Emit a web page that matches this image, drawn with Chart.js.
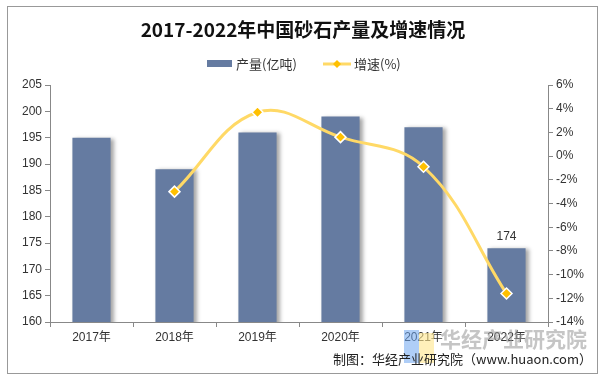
<!DOCTYPE html>
<html>
<head>
<meta charset="utf-8">
<script src="https://cdn.jsdelivr.net/npm/chart.js@4.4.1/dist/chart.umd.min.js"></script>
<style>
    body { margin: 0; background: #fff; }
</style>
</head>
<body>
<canvas id="sandChart" width="607" height="386"></canvas>
<script>
const years = ["2017年", "2018年", "2019年", "2020年", "2021年", "2022年"];
const output = [195, 189, 196, 199, 197, 174];
const growth = [null, -3.0, 3.7, 1.6, -0.9, -11.6];
const leftTicks = [160, 205, 5];
const rightTicks = [-14, 6, 2];

const fontName = '"Liberation Sans", "Noto Sans CJK SC", sans-serif';
const barColor = "#657BA1";
const lineColor = "#FFD966";
const markColor = "#FFC000";

// frame, title, legend, labels and footer
const decorPlugin = {
    id: "decor",
    beforeDatasetDraw(chart, args) {
        if (args.index === 0) {
            const ctx = chart.ctx;
            ctx.save();
            ctx.shadowColor = "rgba(0,0,0,0.35)";
            ctx.shadowBlur = 4;
            ctx.shadowOffsetX = 3;
            ctx.shadowOffsetY = 1;
        }
    },
    afterDatasetDraw(chart, args) {
        if (args.index === 0) chart.ctx.restore();
    },
    afterDraw(chart) {
        const ctx = chart.ctx;
        ctx.save();

        ctx.strokeStyle = "#999";
        ctx.lineWidth = 1;
        ctx.strokeRect(7.5, 6.5, 590, 367);

        ctx.fillStyle = "#111";
        ctx.font = 'bold 19px "Noto Sans CJK SC", serif';
        ctx.textAlign = "center";
        ctx.textBaseline = "middle";
        ctx.fillText("2017-2022年中国砂石产量及增速情况", 303, 30);

        // legend
        ctx.font = '13px "Noto Sans CJK SC", sans-serif';
        ctx.textAlign = "left";
        ctx.fillStyle = barColor;
        ctx.fillRect(207, 60, 25, 7);
        ctx.fillStyle = "#333";
        ctx.fillText("产量(亿吨)", 236, 64);
        ctx.strokeStyle = lineColor;
        ctx.lineWidth = 3;
        ctx.beginPath();
        ctx.moveTo(323, 64);
        ctx.lineTo(351, 64);
        ctx.stroke();
        ctx.fillStyle = markColor;
        ctx.beginPath();
        ctx.moveTo(337, 60);
        ctx.lineTo(341, 64);
        ctx.lineTo(337, 68);
        ctx.lineTo(333, 64);
        ctx.closePath();
        ctx.fill();
        ctx.fillStyle = "#333";
        ctx.fillText("增速(%)", 354, 64);

        // value label on last bar
        const bar = chart.getDatasetMeta(0).data[5];
        ctx.font = "12px " + fontName;
        ctx.textAlign = "center";
        ctx.textBaseline = "bottom";
        ctx.fillStyle = "#333";
        ctx.fillText(String(output[5]), bar.x, bar.y - 6);

        // watermark logo
        ctx.fillStyle = "rgba(110,165,240,0.55)";
        ctx.fillRect(404, 330, 15, 33);
        ctx.fillStyle = "rgba(255,230,140,0.6)";
        ctx.fillRect(419, 333, 15, 30);
        ctx.font = 'bold 21px "Noto Sans CJK SC", sans-serif';
        ctx.textAlign = "left";
        ctx.textBaseline = "middle";
        ctx.fillStyle = "rgba(150,150,150,0.55)";
        ctx.fillText("华经产业研究院", 440, 339);

        ctx.font = '13px "Noto Sans CJK SC", sans-serif';
        ctx.textAlign = "right";
        ctx.fillStyle = "#222";
        ctx.fillText("制图：华经产业研究院（www.huaon.com）", 592, 359);
        ctx.restore();
    }
};

const ctx = document.getElementById("sandChart").getContext("2d");
new Chart(ctx, {
    type: "bar",
    data: {
        labels: years,
        datasets: [{
                label: "产量(亿吨)",
                data: output,
                backgroundColor: barColor,
                barPercentage: 0.46,
                categoryPercentage: 1,
                yAxisID: "y",
                order: 1,
            },
            {
                type: "line",
                label: "增速(%)",
                data: growth,
                borderColor: lineColor,
                borderWidth: 3,
                tension: 0.4,
                pointStyle: "rectRot",
                pointRadius: 5.5,
                pointBackgroundColor: markColor,
                pointBorderColor: "#fff",
                pointBorderWidth: 1.5,
                yAxisID: "y1",
                order: 0,
            },
        ],
    },
    options: {
        responsive: false,
        animation: false,
        layout: {
            padding: { top: 85, left: 0, right: 0, bottom: 0 },
        },
        plugins: {
            legend: { display: false },
            tooltip: { enabled: false },
        },
        scales: {
            x: {
                afterFit: (s) => { s.height = 64; },
                grid: { drawOnChartArea: false, tickLength: 5, color: "#888" },
                border: { color: "#888" },
                ticks: { color: "#333", font: { size: 12, family: fontName }, padding: 3 },
            },
            y: {
                position: "left",
                min: leftTicks[0],
                max: leftTicks[1],
                afterFit: (s) => { s.width = 50; },
                grid: { drawOnChartArea: false, tickLength: 5, color: "#888" },
                border: { color: "#888" },
                ticks: { stepSize: leftTicks[2], color: "#333", font: { size: 12, family: fontName }, padding: 3 },
            },
            y1: {
                position: "right",
                min: rightTicks[0],
                max: rightTicks[1],
                afterFit: (s) => { s.width = 59; },
                grid: { drawOnChartArea: false, tickLength: 5, color: "#888" },
                border: { color: "#888" },
                ticks: {
                    stepSize: rightTicks[2],
                    color: "#333",
                    font: { size: 12, family: fontName },
                    padding: 3,
                    callback: (v) => v + "%",
                },
            },
        },
    },
    plugins: [decorPlugin],
});
</script>
</body>
</html>
